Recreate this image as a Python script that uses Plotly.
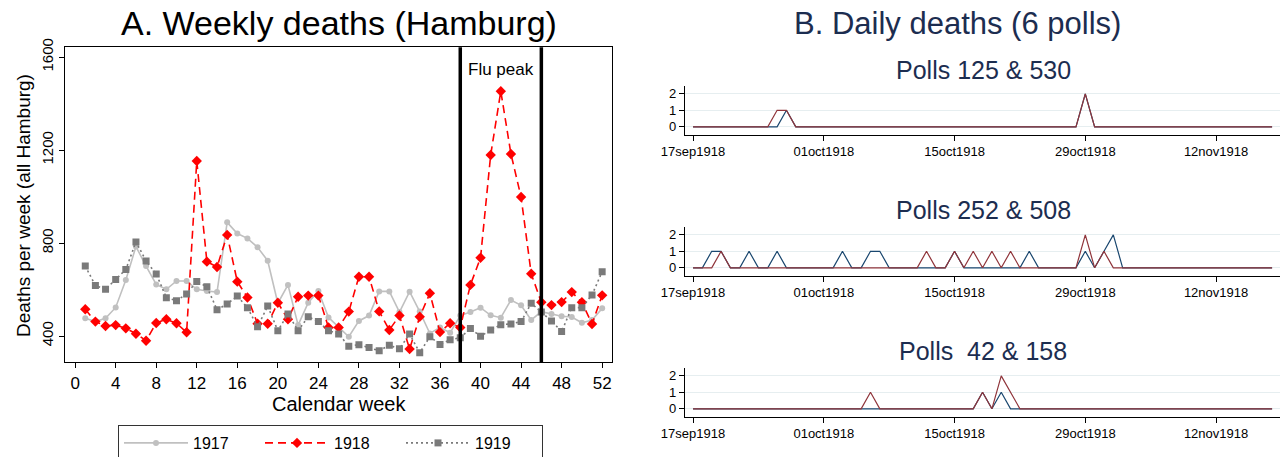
import plotly.graph_objects as go
import pandas as pd

# ---------------- Panel A data: weekly deaths (Hamburg) ----------------
weeks = list(range(1, 53))
deaths_1917 = [476, 462, 476, 523, 641, 785, 701, 622, 601, 637, 637, 601, 594, 589, 889, 841,
               820, 782, 724, 541, 620, 447, 543, 594, 480, 440, 397, 465, 488, 592, 592, 503,
               591, 505, 411, 437, 414, 488, 503, 522, 489, 479, 555, 532, 469, 505, 495, 485,
               482, 457, 469, 519]
deaths_1918 = [515, 462, 443, 447, 433, 410, 380, 456, 472, 455, 416, 1153, 720, 697, 835, 634,
               566, 453, 453, 543, 472, 569, 574, 574, 437, 437, 505, 655, 655, 506, 426, 488,
               344, 483, 584, 417, 455, 437, 620, 737, 1179, 1453, 1183, 998, 668, 545, 533, 546,
               589, 545, 452, 575]
deaths_1919 = [701, 617, 601, 643, 686, 805, 723, 667, 565, 552, 581, 635, 612, 513, 538, 572,
               522, 440, 529, 423, 495, 423, 483, 462, 423, 409, 356, 363, 351, 337, 360, 345,
               409, 328, 397, 364, 384, 393, 432, 399, 426, 449, 452, 462, 541, 503, 465, 419,
               522, 522, 577, 677]
year_names = ["1917", "1918", "1919"]
flu_weeks = [38, 46]
week_ticks = list(range(0, 53, 4))
death_ticks = [400, 800, 1200, 1600]

# ---------------- Panel B data: daily deaths in 6 polls ----------------
dates = pd.date_range("1918-09-17", "1918-11-18", freq="D")
date_tickvals = ["1918-09-17", "1918-10-01", "1918-10-15", "1918-10-29", "1918-11-12"]
date_ticklabels = ["17sep1918", "01oct1918", "15oct1918", "29oct1918", "12nov1918"]
count_ticks = [0, 1, 2]
poll_titles = ["Polls 125 & 530", "Polls 252 & 508", "Polls\u00a0 42 & 158"]

poll_125 = [0, 0, 0, 0, 0, 0, 0,  0, 0, 0, 1, 0, 0, 0,  0, 0, 0, 0, 0, 0, 0,
            0, 0, 0, 0, 0, 0, 0,  0, 0, 0, 0, 0, 0, 0,  0, 0, 0, 0, 0, 0, 0,
            2, 0, 0, 0, 0, 0, 0,  0, 0, 0, 0, 0, 0, 0,  0, 0, 0, 0, 0, 0, 0]
poll_530 = [0, 0, 0, 0, 0, 0, 0,  0, 0, 1, 1, 0, 0, 0,  0, 0, 0, 0, 0, 0, 0,
            0, 0, 0, 0, 0, 0, 0,  0, 0, 0, 0, 0, 0, 0,  0, 0, 0, 0, 0, 0, 0,
            2, 0, 0, 0, 0, 0, 0,  0, 0, 0, 0, 0, 0, 0,  0, 0, 0, 0, 0, 0, 0]
poll_252 = [0, 0, 1, 1, 0, 0, 1,  0, 0, 1, 0, 0, 0, 0,  0, 0, 1, 0, 0, 1, 1,
            0, 0, 0, 0, 0, 0, 0,  1, 0, 0, 0, 0, 0, 0,  0, 1, 0, 0, 0, 0, 0,
            1, 0, 1, 2, 0, 0, 0,  0, 0, 0, 0, 0, 0, 0,  0, 0, 0, 0, 0, 0, 0]
poll_508 = [0, 0, 0, 1, 0, 0, 0,  0, 0, 0, 0, 0, 0, 0,  0, 0, 0, 0, 0, 0, 0,
            0, 0, 0, 0, 1, 0, 0,  1, 0, 1, 0, 1, 0, 1,  0, 0, 0, 0, 0, 0, 0,
            2, 0, 1, 0, 0, 0, 0,  0, 0, 0, 0, 0, 0, 0,  0, 0, 0, 0, 0, 0, 0]
poll_42 = [0, 0, 0, 0, 0, 0, 0,  0, 0, 0, 0, 0, 0, 0,  0, 0, 0, 0, 0, 0, 0,
           0, 0, 0, 0, 0, 0, 0,  0, 0, 0, 1, 0, 1, 0,  0, 0, 0, 0, 0, 0, 0,
           0, 0, 0, 0, 0, 0, 0,  0, 0, 0, 0, 0, 0, 0,  0, 0, 0, 0, 0, 0, 0]
poll_158 = [0, 0, 0, 0, 0, 0, 0,  0, 0, 0, 0, 0, 0, 0,  0, 0, 0, 0, 0, 1, 0,
            0, 0, 0, 0, 0, 0, 0,  0, 0, 0, 1, 0, 2, 1,  0, 0, 0, 0, 0, 0, 0,
            0, 0, 0, 0, 0, 0, 0,  0, 0, 0, 0, 0, 0, 0,  0, 0, 0, 0, 0, 0, 0]
poll_pairs = [(poll_125, poll_530, "Poll 125", "Poll 530"),
              (poll_252, poll_508, "Poll 252", "Poll 508"),
              (poll_42, poll_158, "Poll 42", "Poll 158")]

# ---------------- Figure ----------------
W, H = 1283, 457
FONT = "Liberation Sans, Arial, Helvetica, sans-serif"
NAVY_T = "#1c2d50"
BLUE = "#1a476f"
MAROON = "#90353b"


def px(x):
    return x / W


def py(y):
    return 1 - y / H


fig = go.Figure()

styles = [
    dict(color="#c0c0c0", dash="solid", symbol="circle", size=6, width=1.6),
    dict(color="#ff0000", dash="8px,5px", symbol="diamond", size=8, width=1.6),
    dict(color="#7a7a7a", dash="2px,3px", symbol="square", size=7, width=1.6),
]
for name, vals, st in zip(year_names, [deaths_1917, deaths_1918, deaths_1919], styles):
    fig.add_trace(go.Scatter(
        x=weeks, y=vals, name=name, mode="lines+markers",
        line=dict(color=st["color"], dash=st["dash"], width=st["width"]),
        marker=dict(color=st["color"], symbol=st["symbol"], size=st["size"]),
        xaxis="x", yaxis="y", showlegend=True))

for i, (blue_vals, red_vals, bn, rn) in enumerate(poll_pairs):
    ax = str(i + 2)
    fig.add_trace(go.Scatter(x=dates, y=blue_vals, name=bn, mode="lines",
                             line=dict(color=BLUE, width=1.2),
                             xaxis="x" + ax, yaxis="y" + ax, showlegend=False))
    fig.add_trace(go.Scatter(x=dates, y=red_vals, name=rn, mode="lines",
                             line=dict(color=MAROON, width=1.2),
                             xaxis="x" + ax, yaxis="y" + ax, showlegend=False))

axis_common = dict(showline=True, linecolor="#000000", linewidth=1.2, ticks="outside",
                   ticklen=5, tickcolor="#000000", tickwidth=1.2, zeroline=False,
                   automargin=False)

layout = dict(
    width=W, height=H, margin=dict(l=0, r=0, t=0, b=0, autoexpand=False),
    paper_bgcolor="white", plot_bgcolor="white",
    font=dict(family=FONT, color="#000000"),
    xaxis=dict(domain=[px(65), px(612.3)], range=[-1, 53], tickvals=week_ticks,
               showgrid=False, mirror=True, anchor="y",
               tickfont=dict(family=FONT, size=17, color="#000"), **axis_common),
    yaxis=dict(domain=[py(362.3), py(47.3)], range=[287, 1642], tickvals=death_ticks,
               showgrid=False, mirror=True, tickangle=-90, anchor="x",
               tickfont=dict(family=FONT, size=15, color="#000"), **axis_common),
    legend=dict(orientation="h", x=px(118), y=py(425), xanchor="left", yanchor="top",
                bordercolor="#333333", borderwidth=1, bgcolor="white",
                font=dict(family=FONT, size=16, color="#000"),
                itemwidth=64, entrywidth=62, entrywidthmode="pixels",
                itemclick=False, itemdoubleclick=False),
)

# right panel axes
plot_boxes = [(134.7, 85.6), (275.7, 226.6), (416.7, 367.6)]
for i, (ybot, ytop) in enumerate(plot_boxes):
    ax = str(i + 2)
    layout["xaxis" + ax] = dict(domain=[px(685), px(1280)], anchor="y" + ax,
                                range=["1918-09-16 03:20", "1918-11-18 20:20"],
                                tickvals=date_tickvals, ticktext=date_ticklabels,
                                showgrid=False,
                                tickfont=dict(family=FONT, size=13, color="#000"), **axis_common)
    layout["yaxis" + ax] = dict(domain=[py(ybot), py(ytop)], anchor="x" + ax,
                                range=[-0.48, 2.5], tickvals=count_ticks,
                                showgrid=True, gridcolor="#e6eef0", gridwidth=1,
                                tickfont=dict(family=FONT, size=13, color="#000"), **axis_common)

fig.update_layout(**layout)

# Flu peak boundary lines
for wk in flu_weeks:
    fig.add_shape(type="line", xref="x", yref="y domain", x0=wk, x1=wk, y0=0, y1=1,
                  line=dict(color="#000000", width=3.5))

annotations = [
    dict(text="A. Weekly deaths (Hamburg)", x=px(338.5), y=py(23), size=34, color="#000000"),
    dict(text="B. Daily deaths (6 polls)", x=px(957), y=py(23), size=31, color=NAVY_T),
    dict(text="Deaths per week (all Hamburg)", x=px(23), y=py(206), size=19, color="#000000",
         angle=-90),
    dict(text="Calendar week", x=px(338.5), y=py(404), size=20, color="#000000"),
]
title_ys = [70, 210, 351]
for t, yy in zip(poll_titles, title_ys):
    annotations.append(dict(text=t, x=px(983), y=py(yy), size=25, color=NAVY_T))

for a in annotations:
    fig.add_annotation(text=a["text"], x=a["x"], y=a["y"], xref="paper", yref="paper",
                       xanchor="center", yanchor="middle", showarrow=False,
                       textangle=a.get("angle", 0),
                       font=dict(family=FONT, size=a["size"], color=a["color"]))

fig.add_annotation(text="Flu peak", x=(flu_weeks[0] + flu_weeks[1]) / 2, y=py(69.5),
                   xref="x", yref="paper", xanchor="center", yanchor="middle",
                   showarrow=False, font=dict(family=FONT, size=17, color="#000000"))

fig.write_html("out.html", post_script="document.body.style.margin='0';",
               config={"displayModeBar": False})
